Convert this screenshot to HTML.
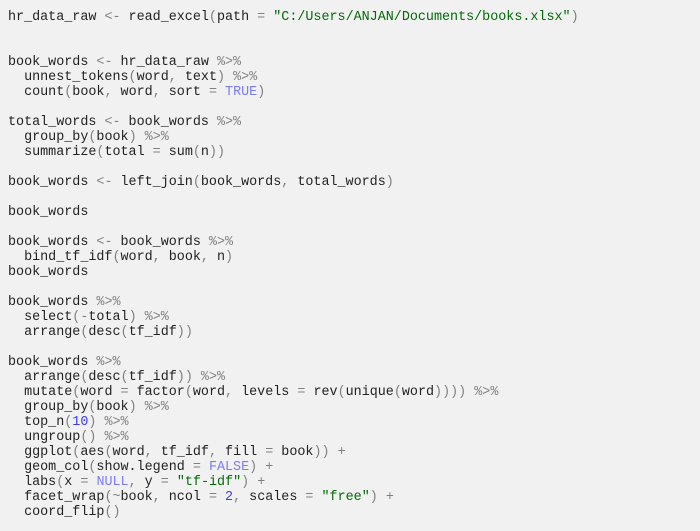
<!DOCTYPE html>
<html><head><meta charset="utf-8"><style>
html,body{margin:0;padding:0;background:#f1f1f1;width:700px;height:531px;overflow:hidden}
pre{margin:0;padding:10px 0 0 8px;font-family:"Liberation Mono",monospace;font-size:13.4px;line-height:15px;color:#222}
.o{color:#808080}.s{color:#036a07}.c{color:#7c7cf2}.n{color:#3a3aff}
</style></head><body><pre>hr_data_raw <span class="o">&lt;-</span> read_excel<span class="o">(</span>path <span class="o">=</span> <span class="s">"C:/Users/ANJAN/Documents/books.xlsx"</span><span class="o">)</span>


book_words <span class="o">&lt;-</span> hr_data_raw <span class="o">%&gt;%</span>
  unnest_tokens<span class="o">(</span>word<span class="o">,</span> text<span class="o">)</span> <span class="o">%&gt;%</span>
  count<span class="o">(</span>book<span class="o">,</span> word<span class="o">,</span> sort <span class="o">=</span> <span class="c">TRUE</span><span class="o">)</span>

total_words <span class="o">&lt;-</span> book_words <span class="o">%&gt;%</span>
  group_by<span class="o">(</span>book<span class="o">)</span> <span class="o">%&gt;%</span>
  summarize<span class="o">(</span>total <span class="o">=</span> sum<span class="o">(</span>n<span class="o">))</span>

book_words <span class="o">&lt;-</span> left_join<span class="o">(</span>book_words<span class="o">,</span> total_words<span class="o">)</span>

book_words

book_words <span class="o">&lt;-</span> book_words <span class="o">%&gt;%</span>
  bind_tf_idf<span class="o">(</span>word<span class="o">,</span> book<span class="o">,</span> n<span class="o">)</span>
book_words

book_words <span class="o">%&gt;%</span>
  select<span class="o">(-</span>total<span class="o">)</span> <span class="o">%&gt;%</span>
  arrange<span class="o">(</span>desc<span class="o">(</span>tf_idf<span class="o">))</span>

book_words <span class="o">%&gt;%</span>
  arrange<span class="o">(</span>desc<span class="o">(</span>tf_idf<span class="o">))</span> <span class="o">%&gt;%</span>
  mutate<span class="o">(</span>word <span class="o">=</span> factor<span class="o">(</span>word<span class="o">,</span> levels <span class="o">=</span> rev<span class="o">(</span>unique<span class="o">(</span>word<span class="o">))))</span> <span class="o">%&gt;%</span>
  group_by<span class="o">(</span>book<span class="o">)</span> <span class="o">%&gt;%</span>
  top_n<span class="o">(</span><span class="n">10</span><span class="o">)</span> <span class="o">%&gt;%</span>
  ungroup<span class="o">()</span> <span class="o">%&gt;%</span>
  ggplot<span class="o">(</span>aes<span class="o">(</span>word<span class="o">,</span> tf_idf<span class="o">,</span> fill <span class="o">=</span> book<span class="o">))</span> <span class="o">+</span>
  geom_col<span class="o">(</span>show.legend <span class="o">=</span> <span class="c">FALSE</span><span class="o">)</span> <span class="o">+</span>
  labs<span class="o">(</span>x <span class="o">=</span> <span class="c">NULL</span><span class="o">,</span> y <span class="o">=</span> <span class="s">"tf-idf"</span><span class="o">)</span> <span class="o">+</span>
  facet_wrap<span class="o">(~</span>book<span class="o">,</span> ncol <span class="o">=</span> <span class="n">2</span><span class="o">,</span> scales <span class="o">=</span> <span class="s">"free"</span><span class="o">)</span> <span class="o">+</span>
  coord_flip<span class="o">()</span></pre></body></html>
